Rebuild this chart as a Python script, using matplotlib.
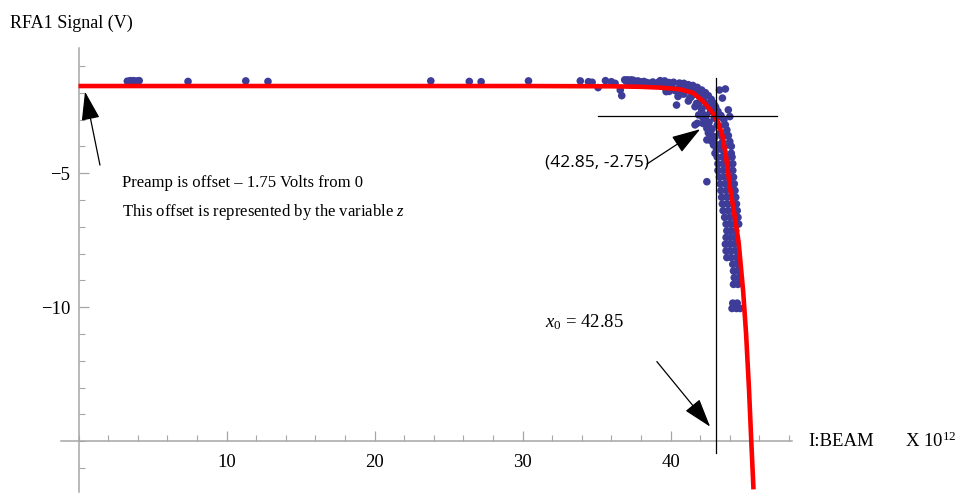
import numpy as np
import matplotlib
matplotlib.use('Agg')
import matplotlib.pyplot as plt
from matplotlib.ticker import MultipleLocator

plt.rcParams['font.family'] = 'Liberation Serif'
plt.rcParams['mathtext.fontset'] = 'custom'
plt.rcParams['mathtext.rm'] = 'Liberation Serif'
plt.rcParams['mathtext.it'] = 'Liberation Serif:italic'

# measured points, beam current (x 1e12) vs RFA1 signal (V)
flat_x = [3.3, 3.5, 3.7, 3.9, 4.1, 7.4, 11.3, 12.8, 23.8, 26.4, 27.2, 30.4,
          33.9, 34.45, 34.7, 35.1, 35.6, 36.0, 36.25, 36.6, 36.7, 36.9, 37.1,
          37.35, 37.5, 37.8, 38.0, 38.2, 38.6, 39.0, 39.3, 39.7, 39.7, 37.2, 37.6,
          37.0, 37.4, 37.9, 38.4, 38.8, 39.5]
flat_y = [-1.57, -1.55, -1.55, -1.56, -1.55, -1.58, -1.56, -1.58, -1.56, -1.58, -1.59, -1.56,
          -1.56, -1.59, -1.61, -1.81, -1.55, -1.59, -1.65, -1.9, -2.11, -1.52, -1.52,
          -1.52, -1.54, -1.56, -1.6, -1.58, -1.65, -1.67, -1.55, -1.7, -1.88, -1.65, -1.68,
          -1.57, -1.58, -1.62, -1.62, -1.6, -1.62]

knee_x = [39.6, 40.2, 40.9, 41.5, 42.1, 42.55, 42.9, 43.2, 43.6, 43.8, 44.0, 44.1,
          39.7, 40.5, 41.2, 41.65, 41.9, 42.2, 42.45, 42.7, 42.9, 43.0,
          40.0, 40.6, 41.2, 41.8, 42.2, 42.5, 42.7, 42.95, 43.15, 43.35, 43.5, 43.6,
          40.3, 40.9, 41.4, 41.9, 42.1, 42.4, 42.6, 42.8, 43.0, 43.2, 43.8, 43.4,
          43.0, 42.3, 41.0, 41.7,
          39.2, 39.9, 40.6, 41.2, 41.8, 42.35, 42.75, 43.05, 43.4, 43.7, 43.9, 44.1,
          39.4, 40.1, 40.8, 41.4, 41.95, 42.4, 42.75, 43.05, 43.3, 43.5, 43.65,
          39.9, 40.7, 41.3, 41.75, 42.1, 42.35, 42.6, 42.8, 43.0, 43.1,
          42.2, 42.55, 42.75, 43.3,
          40.4, 43.3, 43.7, 43.5, 43.9, 44.0, 42.45, 41.8, 41.65, 42.45]
knee_y = [-1.56, -1.61, -1.65, -1.73, -1.9, -2.11, -2.39, -2.7, -3.01, -3.39, -3.82, -4.26,
          -1.96, -2.14, -2.31, -2.52, -2.83, -2.95, -3.33, -3.57, -3.95, -4.26,
          -1.75, -1.8, -1.9, -2.05, -2.25, -2.5, -2.7, -2.95, -3.2, -3.5, -3.85, -4.2,
          -1.92, -2.05, -2.15, -2.4, -2.6, -2.85, -3.1, -3.35, -3.65, -3.95, -3.6, -2.9,
          -2.5, -2.0, -1.72, -1.85,
          -1.6, -1.62, -1.64, -1.7, -1.8, -2.0, -2.25, -2.55, -2.85, -3.2, -3.6, -4.0,
          -1.75, -1.8, -1.85, -1.95, -2.15, -2.4, -2.65, -2.9, -3.25, -3.65, -4.0,
          -1.95, -2.05, -2.2, -2.4, -2.7, -3.0, -3.3, -3.6, -3.9, -4.1,
          -3.15, -3.5, -3.8, -4.1,
          -2.46, -1.9, -1.86, -2.2, -2.64, -2.89, -3.76, -3.14, -3.2, -5.32]

tail_x = [43.15, 43.5, 43.85, 44.15,
          43.2, 43.55, 43.9, 44.2,
          43.2, 43.55, 43.9, 44.2,
          43.3, 43.65, 44.0, 44.25,
          43.35, 43.7, 44.05, 44.3,
          43.4, 43.75, 44.1, 44.35,
          43.45, 43.8, 44.15, 44.4,
          43.5, 43.85, 44.2, 44.45,
          43.55, 43.9, 44.25, 44.5,
          43.65, 44.0, 44.3, 44.55,
          43.75, 44.05, 44.35, 44.6,
          43.8, 44.1, 44.4,
          43.75, 44.05, 44.35,
          43.7, 44.0, 44.3,
          43.75, 44.05, 44.4,
          43.8, 44.1, 44.45,
          44.2, 44.5,
          44.25, 44.55,
          44.3, 44.6,
          44.25, 44.55,
          44.2, 44.5,
          44.15, 44.45, 44.7]
tail_y = [-4.4, -4.4, -4.4, -4.4,
          -4.65, -4.65, -4.65, -4.65,
          -4.9, -4.9, -4.9, -4.9,
          -5.15, -5.15, -5.15, -5.15,
          -5.4, -5.4, -5.4, -5.4,
          -5.65, -5.65, -5.65, -5.65,
          -5.9, -5.9, -5.9, -5.9,
          -6.15, -6.15, -6.15, -6.15,
          -6.4, -6.4, -6.4, -6.4,
          -6.65, -6.65, -6.65, -6.65,
          -6.9, -6.9, -6.9, -6.9,
          -7.15, -7.15, -7.15,
          -7.4, -7.4, -7.4,
          -7.65, -7.65, -7.65,
          -7.9, -7.9, -7.9,
          -8.15, -8.15, -8.15,
          -8.4, -8.4,
          -8.65, -8.65,
          -8.9, -8.9,
          -9.15, -9.15,
          -9.85, -9.85,
          -10.05, -10.05, -10.05]

# fitted curve
fit_x = [0, 30, 36, 38, 39.3, 40.6, 41.5, 42.2, 42.8, 43.2, 43.5, 43.75,
         44.0, 44.3, 44.6, 44.9, 45.1, 45.3, 45.45, 45.6]
fit_y = [-1.75, -1.75, -1.76, -1.78, -1.81, -1.87, -2.0, -2.32, -2.72, -3.1, -3.6, -4.4,
         -5.5, -6.5, -7.6, -9.4, -11.0, -13.1, -15.0, -16.8]

x0 = 43.05
y_cross = -2.85

fig = plt.figure(figsize=(9.55, 4.95), dpi=100)
ax = fig.add_axes([0.0636, 0.0059, 0.7657, 0.8972])
ax.set_xlim(-1.2, 48.2)
ax.set_ylim(-16.9, -0.33)

dot_c = '#3d3d99'
ax.scatter(flat_x + knee_x + tail_x, flat_y + knee_y + tail_y, s=30, color=dot_c,
           edgecolors='none', zorder=2)
ax.plot(fit_x, fit_y, color='red', lw=3.3, zorder=3, solid_capstyle='butt')

ax.plot([x0, x0], [-15.45, -1.45], color='black', lw=0.9, zorder=4)
ax.plot([35.1, 47.2], [y_cross, y_cross], color='black', lw=0.9, zorder=4)

# axes in the Mathematica style
gray = '#a6a6a6'
for s in ['top', 'right']:
    ax.spines[s].set_visible(False)
ax.spines['left'].set_position(('data', 0))
ax.spines['bottom'].set_position(('data', -15))
for s in ['left', 'bottom']:
    ax.spines[s].set_color(gray)
    ax.spines[s].set_linewidth(1.1)

ax.set_xticks([10, 20, 30, 40])
ax.xaxis.set_minor_locator(MultipleLocator(2))
ax.set_yticks([-5, -10])
ax.yaxis.set_minor_locator(MultipleLocator(1))
ax.tick_params(which='both', direction='in', color=gray, labelsize=13.5)
ax.tick_params(which='major', length=7, width=0.9)
ax.tick_params(which='minor', length=4.5, width=0.8)
ax.tick_params(axis='x', which='major', pad=9)
ax.tick_params(axis='y', which='major', pad=6)

arrow = dict(arrowstyle='-|>,head_length=1.0,head_width=0.32', color='black',
             lw=0.9, mutation_scale=18, shrinkA=0, shrinkB=0)

ax.annotate('', xy=(0.44, -1.96), xytext=(1.45, -4.7), arrowprops=arrow)
ax.text(2.94, -5.35, 'Preamp is offset \u2013 1.75 Volts from 0', fontsize=12,
        va='center', ha='left')
ax.text(2.94, -6.45, r'This offset is represented by the variable $z$', fontsize=12,
        va='center', ha='left')

ax.annotate('', xy=(42.0, -3.36), xytext=(38.4, -4.66), arrowprops=arrow)
ax.text(31.5, -4.62, '(42.85, -2.75)', fontsize=12.5, family='Open Sans',
        va='center', ha='left')

ax.annotate('', xy=(42.67, -14.46), xytext=(39.07, -12.03), arrowprops=arrow)
ax.text(31.5, -10.55, r'$x_0$ = 42.85', fontsize=13.5, va='center', ha='left')

fig.text(10 / 955, 1 - 23 / 495, 'RFA1 Signal (V)', fontsize=13, va='center', ha='left')
fig.text(808 / 955, 1 - 441 / 495, 'I:BEAM', fontsize=13.5, va='center', ha='left')
fig.text(905 / 955, 1 - 441 / 495, r'X $\mathrm{10}^{12}$', fontsize=13.5,
         va='center', ha='left')

plt.savefig('out.png', dpi=100)
